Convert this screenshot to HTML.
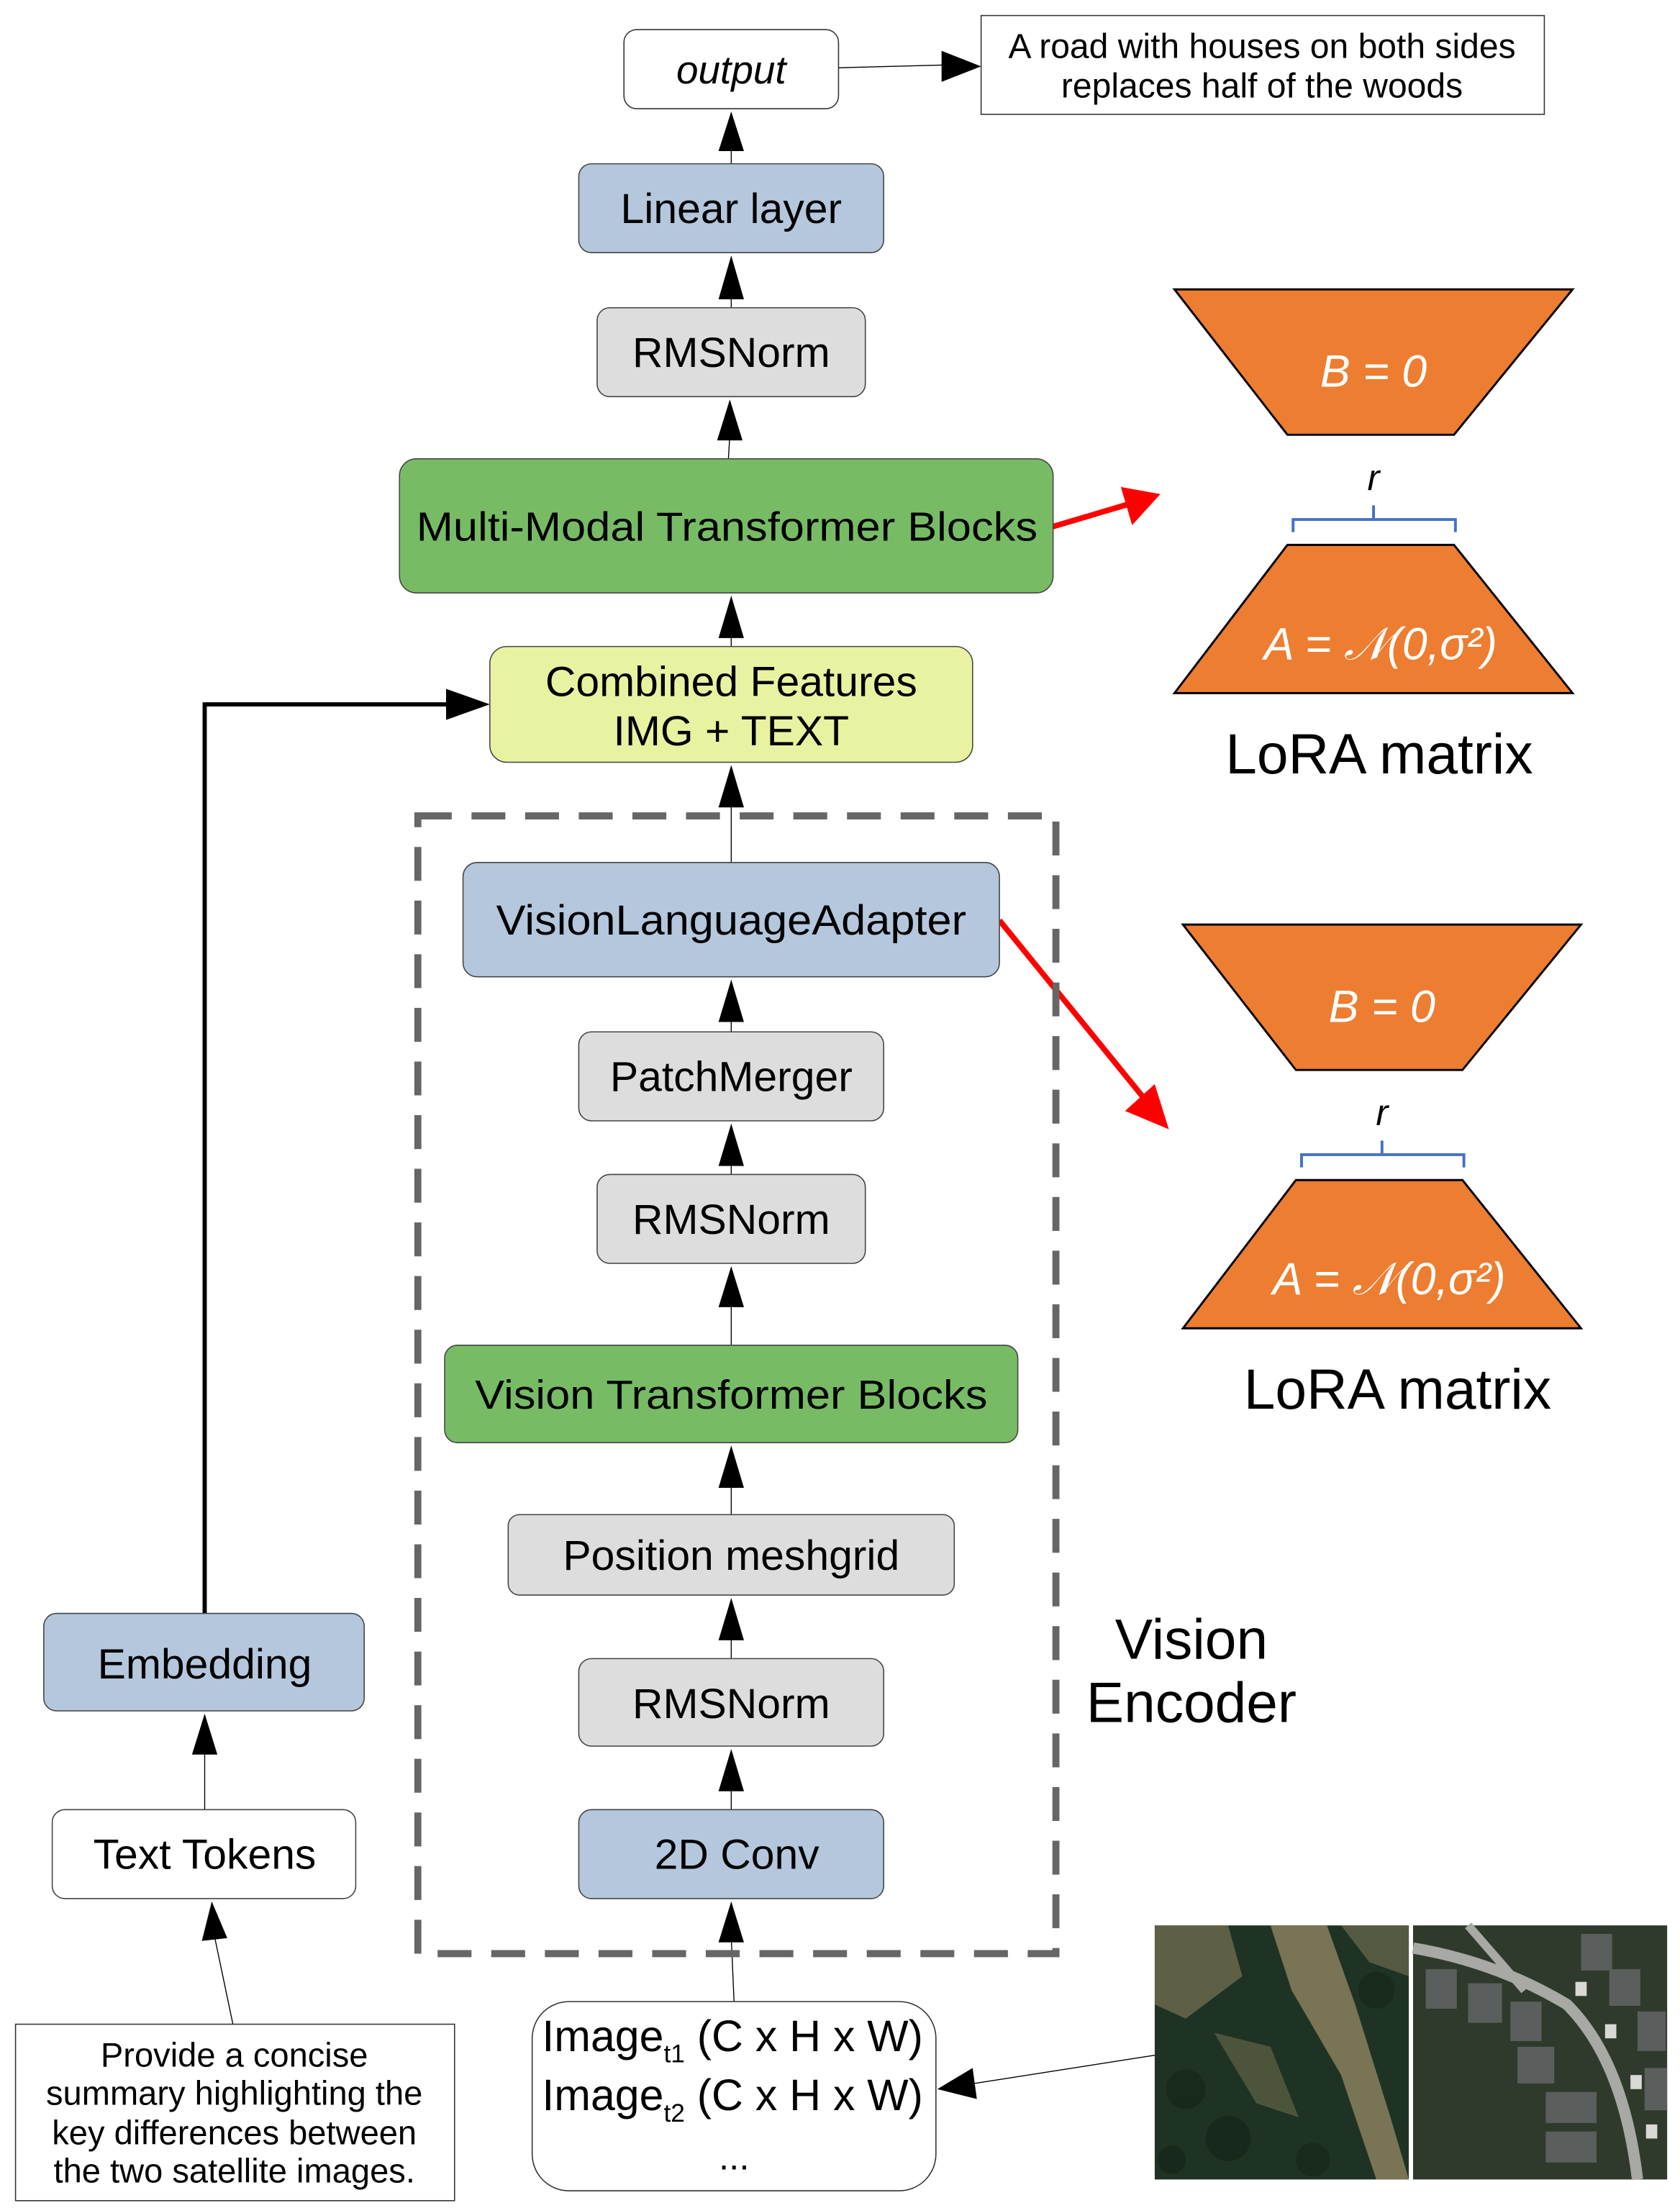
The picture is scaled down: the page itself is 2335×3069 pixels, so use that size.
<!DOCTYPE html>
<html><head><meta charset="utf-8"><style>
html,body{margin:0;padding:0;background:#fff;}
svg{display:block;}
text{font-family:"Liberation Sans",sans-serif;fill:#000;}
</style></head><body>
<svg width="2335" height="3069" viewBox="0 0 1190.1 1564.2" xmlns="http://www.w3.org/2000/svg">
<g font-family="Liberation Sans">
<g stroke="#000" stroke-width="0.7">
<line x1="518" y1="116" x2="518" y2="100"/>
<line x1="518" y1="218" x2="518" y2="205"/>
<line x1="516" y1="325" x2="517" y2="308"/>
<line x1="518" y1="458" x2="518" y2="448"/>
<line x1="518" y1="611" x2="518" y2="568"/>
<line x1="518" y1="731" x2="518" y2="720"/>
<line x1="518" y1="832" x2="518" y2="822"/>
<line x1="518" y1="953" x2="518" y2="922"/>
<line x1="518" y1="1073" x2="518" y2="1050"/>
<line x1="518" y1="1175" x2="518" y2="1158"/>
<line x1="518" y1="1282" x2="518" y2="1265"/>
<line x1="520" y1="1418" x2="518" y2="1372"/>
<line x1="145" y1="1282" x2="145" y2="1240"/>
<line x1="165" y1="1434" x2="152" y2="1372"/>
<line x1="594" y1="48" x2="670" y2="46"/>
<line x1="818" y1="1456" x2="690" y2="1476"/>
</g>
<g fill="#000">
<path d="M509,107 L527,107 L518,79z"/>
<path d="M509,212 L527,212 L518,181z"/>
<path d="M508,312 L526,312 L517,283z"/>
<path d="M509,452 L527,452 L518,422z"/>
<path d="M509,572 L527,572 L518,542z"/>
<path d="M509,724 L527,724 L518,694z"/>
<path d="M509,826 L527,826 L518,796z"/>
<path d="M509,926 L527,926 L518,897z"/>
<path d="M509,1054 L527,1054 L518,1024z"/>
<path d="M509,1162 L527,1162 L518,1132z"/>
<path d="M509,1269 L527,1269 L518,1239z"/>
<path d="M509,1376 L527,1376 L518,1347z"/>
<path d="M136,1243 L154,1243 L145,1214z"/>
<path d="M143,1375 L161,1373 L150,1347z"/>
<path d="M667,36 L667,58 L695,47z"/>
<path d="M689,1465 L692,1487 L664,1480z"/>
<path d="M316,488 L316,510 L347,499z"/>
</g>
<polyline points="145,1143 145,499 318,499" fill="none" stroke="#000" stroke-width="3"/>
<line x1="746" y1="373" x2="800" y2="357" stroke="#f00" stroke-width="4"/>
<path d="M794,345 L822,350 L802,372z" fill="#f00"/>
<line x1="708" y1="652" x2="812" y2="780" stroke="#f00" stroke-width="4"/>
<path d="M797,787 L828,800 L818,768z" fill="#f00"/>
<rect x="296" y="578" width="452" height="806" fill="none" stroke="#666" stroke-width="5" stroke-dasharray="24,14"/>
<rect x="442" y="21" width="152" height="56" rx="9" fill="#fff" stroke="#333" stroke-width="0.8"/>
<text x="518" y="59" font-size="28" font-style="italic" text-anchor="middle">output</text>
<rect x="695" y="11" width="399" height="70" fill="#fff" stroke="#333" stroke-width="0.8"/>
<text x="894" y="41" font-size="24.5" text-anchor="middle">A road with houses on both sides</text>
<text x="894" y="69" font-size="24.5" text-anchor="middle">replaces half of the woods</text>
<rect x="410" y="116" width="216" height="63" rx="9" fill="#b4c7dc" stroke="#444" stroke-width="0.8"/>
<text x="518" y="158" font-size="30" text-anchor="middle">Linear layer</text>
<rect x="423" y="218" width="190" height="63" rx="9" fill="#dddddd" stroke="#444" stroke-width="0.8"/>
<text x="518" y="260" font-size="30" text-anchor="middle">RMSNorm</text>
<rect x="283" y="325" width="463" height="95" rx="12" fill="#77bc65" stroke="#444" stroke-width="0.8"/>
<text x="515" y="383" font-size="29" text-anchor="middle" textLength="440" lengthAdjust="spacingAndGlyphs">Multi-Modal Transformer Blocks</text>
<rect x="347" y="458" width="342" height="82" rx="12" fill="#e8f2a1" stroke="#444" stroke-width="0.8"/>
<text x="518" y="493" font-size="30" text-anchor="middle">Combined Features</text>
<text x="518" y="528" font-size="30" text-anchor="middle">IMG + TEXT</text>
<rect x="328" y="611" width="380" height="81" rx="10" fill="#b4c7dc" stroke="#444" stroke-width="0.8"/>
<text x="518" y="662" font-size="30" text-anchor="middle" textLength="333" lengthAdjust="spacingAndGlyphs">VisionLanguageAdapter</text>
<rect x="410" y="731" width="216" height="63" rx="9" fill="#dddddd" stroke="#444" stroke-width="0.8"/>
<text x="518" y="773" font-size="30" text-anchor="middle">PatchMerger</text>
<rect x="423" y="832" width="190" height="63" rx="9" fill="#dddddd" stroke="#444" stroke-width="0.8"/>
<text x="518" y="874" font-size="30" text-anchor="middle">RMSNorm</text>
<rect x="315" y="953" width="406" height="69" rx="9" fill="#77bc65" stroke="#444" stroke-width="0.8"/>
<text x="518" y="998" font-size="29" text-anchor="middle" textLength="363" lengthAdjust="spacingAndGlyphs">Vision Transformer Blocks</text>
<rect x="360" y="1073" width="316" height="57" rx="8" fill="#dddddd" stroke="#444" stroke-width="0.8"/>
<text x="518" y="1112" font-size="30" text-anchor="middle">Position meshgrid</text>
<rect x="410" y="1175" width="216" height="62" rx="9" fill="#dddddd" stroke="#444" stroke-width="0.8"/>
<text x="518" y="1217" font-size="30" text-anchor="middle">RMSNorm</text>
<rect x="410" y="1282" width="216" height="63" rx="9" fill="#b4c7dc" stroke="#444" stroke-width="0.8"/>
<text x="522" y="1324" font-size="30" text-anchor="middle">2D Conv</text>
<rect x="377" y="1418" width="286" height="134" rx="26" fill="#fff" stroke="#333" stroke-width="0.8"/>
<text x="384" y="1453" font-size="31">Image<tspan font-size="18" dy="8">t1</tspan><tspan dy="-8"> (C x H x W)</tspan></text>
<text x="384" y="1495" font-size="31">Image<tspan font-size="18" dy="8">t2</tspan><tspan dy="-8"> (C x H x W)</tspan></text>
<text x="520" y="1537" font-size="26" text-anchor="middle">...</text>
<rect x="31" y="1143" width="227" height="69" rx="9" fill="#b4c7dc" stroke="#444" stroke-width="0.8"/>
<text x="145" y="1189" font-size="30" text-anchor="middle">Embedding</text>
<rect x="37" y="1282" width="215" height="63" rx="9" fill="#fff" stroke="#444" stroke-width="0.8"/>
<text x="145" y="1324" font-size="30" text-anchor="middle">Text Tokens</text>
<rect x="11" y="1434" width="311" height="125" fill="#fff" stroke="#333" stroke-width="0.8"/>
<text x="166" y="1464" font-size="24" text-anchor="middle">Provide a concise</text>
<text x="166" y="1491" font-size="24" text-anchor="middle">summary highlighting the</text>
<text x="166" y="1519" font-size="24" text-anchor="middle">key differences between</text>
<text x="166" y="1546" font-size="24" text-anchor="middle">the two satellite images.</text>
<text x="844" y="1175" font-size="40" text-anchor="middle">Vision</text>
<text x="844" y="1220" font-size="40" text-anchor="middle">Encoder</text>
<g>
<path d="M832,205 L1114,205 L1030,308 L912,308z" fill="#ed7d31" stroke="#000" stroke-width="1.5"/>
<text x="973" y="274" font-size="32" font-family="Liberation Serif" font-style="italic" text-anchor="middle" style="fill:#fff">B = 0</text>
<text x="973" y="347" font-size="26" font-family="Liberation Serif" font-style="italic" text-anchor="middle">r</text>
<path d="M916,377 L916,368 L1031,368 L1031,377 M973,368 L973,358" fill="none" stroke="#4472c4" stroke-width="2"/>
<path d="M912,386 L1030,386 L1114,491 L832,491z" fill="#ed7d31" stroke="#000" stroke-width="1.5"/>
<text x="978" y="467" font-size="32" font-family="Liberation Serif" font-style="italic" text-anchor="middle" style="fill:#fff">A = 𝒩(0,σ²)</text>
<text x="977" y="548" font-size="40" text-anchor="middle">LoRA matrix</text>
</g>
<g transform="translate(6,450)">
<path d="M832,205 L1114,205 L1030,308 L912,308z" fill="#ed7d31" stroke="#000" stroke-width="1.5"/>
<text x="973" y="274" font-size="32" font-family="Liberation Serif" font-style="italic" text-anchor="middle" style="fill:#fff">B = 0</text>
<text x="973" y="347" font-size="26" font-family="Liberation Serif" font-style="italic" text-anchor="middle">r</text>
<path d="M916,377 L916,368 L1031,368 L1031,377 M973,368 L973,358" fill="none" stroke="#4472c4" stroke-width="2"/>
<path d="M912,386 L1030,386 L1114,491 L832,491z" fill="#ed7d31" stroke="#000" stroke-width="1.5"/>
<text x="978" y="467" font-size="32" font-family="Liberation Serif" font-style="italic" text-anchor="middle" style="fill:#fff">A = 𝒩(0,σ²)</text>
<text x="984" y="548" font-size="40" text-anchor="middle">LoRA matrix</text>
</g>
<rect x="818" y="1364" width="180" height="180" fill="#1f3324"/>
<g fill="#8f8560" opacity="0.8">
<path d="M900,1364 L940,1364 L960,1420 L985,1500 L998,1544 L975,1544 L950,1470 L915,1410z"/>
<path d="M818,1364 L870,1364 L880,1400 L840,1430 L818,1420z" opacity="0.7"/>
<path d="M950,1364 L998,1364 L998,1400 L970,1390z" opacity="0.6"/>
<path d="M860,1440 L900,1450 L920,1500 L890,1490z" opacity="0.5"/>
</g>
<g fill="#15261a" opacity="0.7">
<circle cx="840" cy="1480" r="14"/><circle cx="870" cy="1515" r="16"/><circle cx="930" cy="1530" r="12"/><circle cx="975" cy="1410" r="13"/><circle cx="830" cy="1530" r="10"/>
</g>
<rect x="1001" y="1364" width="180" height="180" fill="#2f3a2c"/>
<path d="M1001,1380 Q1060,1390 1110,1420 Q1150,1460 1160,1544" fill="none" stroke="#a8a8a4" stroke-width="8"/>
<path d="M1040,1364 L1080,1410" stroke="#a8a8a4" stroke-width="6"/>
<g fill="#5a5e5c">
<rect x="1010" y="1395" width="22" height="28"/><rect x="1040" y="1405" width="24" height="28"/><rect x="1070" y="1418" width="22" height="28"/><rect x="1075" y="1450" width="26" height="26"/>
<rect x="1120" y="1370" width="22" height="26"/><rect x="1140" y="1395" width="22" height="26"/><rect x="1160" y="1425" width="20" height="28"/><rect x="1165" y="1465" width="16" height="30"/>
<rect x="1095" y="1482" width="36" height="22"/><rect x="1095" y="1510" width="36" height="22"/>
</g>
<g fill="#d8d8d4">
<rect x="1116" y="1404" width="8" height="10"/><rect x="1137" y="1434" width="8" height="10"/><rect x="1155" y="1470" width="8" height="10"/><rect x="1166" y="1505" width="8" height="10"/>
</g>
</g>
</svg>
</body></html>
